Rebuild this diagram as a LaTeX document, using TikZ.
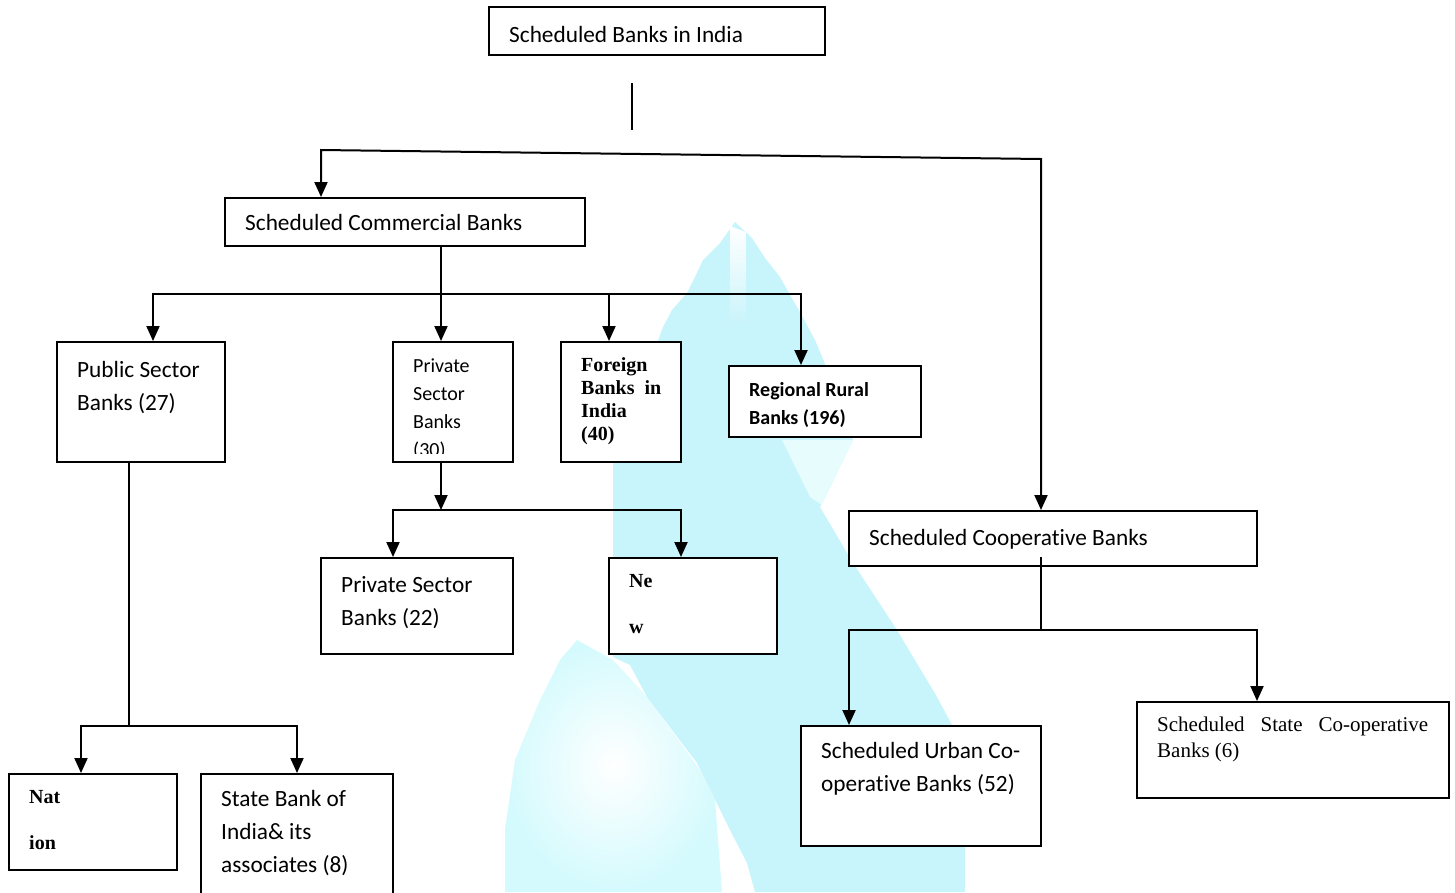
\documentclass[tikz,border=0pt]{standalone}
\usepackage{fontspec}
\usetikzlibrary{arrows.meta}
\newfontfamily\carl[Ligatures=NoCommon]{Carlito}
\newfontfamily\tnr{Liberation Serif}
\definecolor{band}{RGB}{200,244,251}
\definecolor{bandfade}{RGB}{230,252,253}
\definecolor{lobe}{RGB}{212,250,253}
\newcommand\stacked[2]{\parbox[t]{#1pt}{\raggedright #2}}
\begin{document}
\begin{tikzpicture}[x=1pt,y=-1pt,
  box/.style={draw,line width=2pt,fill=white,inner sep=0pt},
  conn/.style={line width=2pt,line join=miter},
  arr/.style={conn,-{Triangle[length=15pt,width=13pt]}},
  twoarr/.style={conn,{Triangle[length=15pt,width=13pt]}-{Triangle[length=15pt,width=13pt]}},
  lbl/.style={anchor=base west,inner sep=0pt},
  calm/.style={lbl,font=\carl\fontsize{23.3}{33}\selectfont},
  calsmall/.style={lbl,font=\carl\fontsize{20}{28}\selectfont},
  calbold/.style={lbl,font=\carl\bfseries\fontsize{20}{28}\selectfont},
  serbold/.style={lbl,font=\tnr\bfseries\fontsize{20}{23.3}\selectfont},
  serspread/.style={lbl,font=\tnr\bfseries\fontsize{20}{46}\selectfont},
  serreg/.style={lbl,font=\tnr\fontsize{21}{26}\selectfont}]
\useasboundingbox (0,0) rectangle (1455,892);
\clip (0,0) rectangle (1455,892);

% pale logo in the background
\shade[inner color=white,outer color=lobe]
  (577,640) -- (613,660) -- (647,697) -- (700,770) -- (715,800) -- (722,892)
  -- (505,892) -- (505,830) -- (515,760) -- (540,700) -- (560,660) -- cycle;
\fill[band]
  (735,222) -- (752,238) -- (765,258) -- (780,277) -- (790,295) -- (800,312)
  -- (815,340) -- (840,400) -- (853,440) -- (820,507) -- (853,563) -- (897,630)
  -- (937,697) -- (952,725) -- (965,760) -- (965,892) -- (755,892) -- (747,863)
  -- (730,830) -- (697,763) -- (647,697) -- (630,665) -- (613,657) -- (613,463)
  -- (640,390) -- (663,327) -- (672,310) -- (687,293) -- (695,277) -- (703,260)
  -- (720,243) -- cycle;
\fill[bandfade] (782,440) -- (853,440) -- (822,505) -- (810,497) -- cycle;
\shade[top color=white,bottom color=band] (730,226) -- (746,232) -- (746,325) -- (730,325) -- cycle;

% boxes
\node[box,minimum width=336,minimum height=48]  (sbi)   at (657,31)    {};
\node[box,minimum width=360,minimum height=48]  (scb)   at (405,222)   {};
\node[box,minimum width=168,minimum height=120] (pub)   at (141,402)   {};
\node[box,minimum width=120,minimum height=120] (pvt)   at (453,402)   {};
\node[box,minimum width=120,minimum height=120] (frn)   at (621,402)   {};
\node[box,minimum width=192,minimum height=71]  (rrb)   at (825,401.5) {};
\node[box,minimum width=408,minimum height=55]  (coop)  at (1053,538.5){};
\node[box,minimum width=192,minimum height=96]  (pvtb)  at (417,606)   {};
\node[box,minimum width=168,minimum height=96]  (new)   at (693,606)   {};
\node[box,minimum width=168,minimum height=96]  (nat)   at (93,822)    {};
\node[box,minimum width=192,minimum height=146] (sbia)  at (297,847)   {};
\node[box,minimum width=240,minimum height=120] (urban) at (921,786)   {};
\node[box,minimum width=312,minimum height=96]  (state) at (1293,750)  {};

% labels
\node[calm] (t1) at (509,42)  {Scheduled Banks in India};
\node[calm] (t2) at (245,230) {Scheduled Commercial Banks};
\node[calm] (t3) at (77,377)  {\stacked{140}{Public Sector\\Banks (27)}};
\begin{scope}
  \clip (395,344) rectangle (511,453);
  \node[calsmall] (t4) at (413,372) {\stacked{90}{Private\\Sector\\Banks\\(30)}};
\end{scope}
\node[serbold] (t5) at (581,371) {\stacked{95}{Foreign\\\makebox[80pt][s]{Banks in}\\India\\(40)}};
\node[calbold] (t6) at (749,396) {\stacked{160}{Regional Rural\\Banks (196)}};
\node[calm] (t7) at (869,545) {Scheduled Cooperative Banks};
\node[calm] (t8) at (341,592) {\stacked{160}{Private Sector\\Banks (22)}};
\node[serspread] (t9) at (629,587) {\stacked{60}{Ne\\w}};
\node[serspread] (t10) at (29,803) {\stacked{60}{Nat\\ion}};
\node[calm] (t11) at (221,806) {\stacked{165}{State Bank of\\India\& its\\associates (8)}};
\node[calm] (t12) at (821,758) {\stacked{215}{Scheduled Urban Co-\\operative Banks (52)}};
\node[serreg] (t13) at (1157,731) {\stacked{280}{\makebox[271pt][s]{Scheduled State Co-operative}\\Banks (6)}};

% junction points
\coordinate (v1) at (632,83);
\coordinate (v2) at (632,130);
\coordinate (k1) at (321,150);
\coordinate (k2) at (1041,159);
\coordinate (b1) at (441,294);
\coordinate (b1a) at (153,294);
\coordinate (b1c) at (609,294);
\coordinate (b1d) at (801,294);
\coordinate (b2) at (441,510);
\coordinate (b2a) at (393,510);
\coordinate (b2b) at (681,510);
\coordinate (b3) at (129,726);
\coordinate (b3a) at (81,726);
\coordinate (b3b) at (297,726);
\coordinate (b4s) at (1041,557);
\coordinate (b4) at (1041,630);
\coordinate (b4a) at (849,630);
\coordinate (b4b) at (1257,630);

% connectors
\draw[conn] (v1) -- (v2);
\draw[twoarr] (k1 |- scb.north) -- (k1) -- (k2) -- (k2 |- coop.north);
\draw[conn] (scb.south -| b1) -- (b1);
\draw[twoarr] (b1a |- pub.north) -- (b1a) -- (b1d) -- (b1d |- rrb.north);
\draw[arr] (b1) -- (b1 |- pvt.north);
\draw[arr] (b1c) -- (b1c |- frn.north);
\draw[arr] (pvt.south -| b2) -- (b2);
\draw[twoarr] (b2a |- pvtb.north) -- (b2a) -- (b2b) -- (b2b |- new.north);
\draw[conn] (pub.south -| b3) -- (b3);
\draw[twoarr] (b3a |- nat.north) -- (b3a) -- (b3b) -- (b3b |- sbia.north);
\draw[conn] (b4s) -- (b4);
\draw[twoarr] (b4a |- urban.north) -- (b4a) -- (b4b) -- (b4b |- state.north);
\end{tikzpicture}
\end{document}
